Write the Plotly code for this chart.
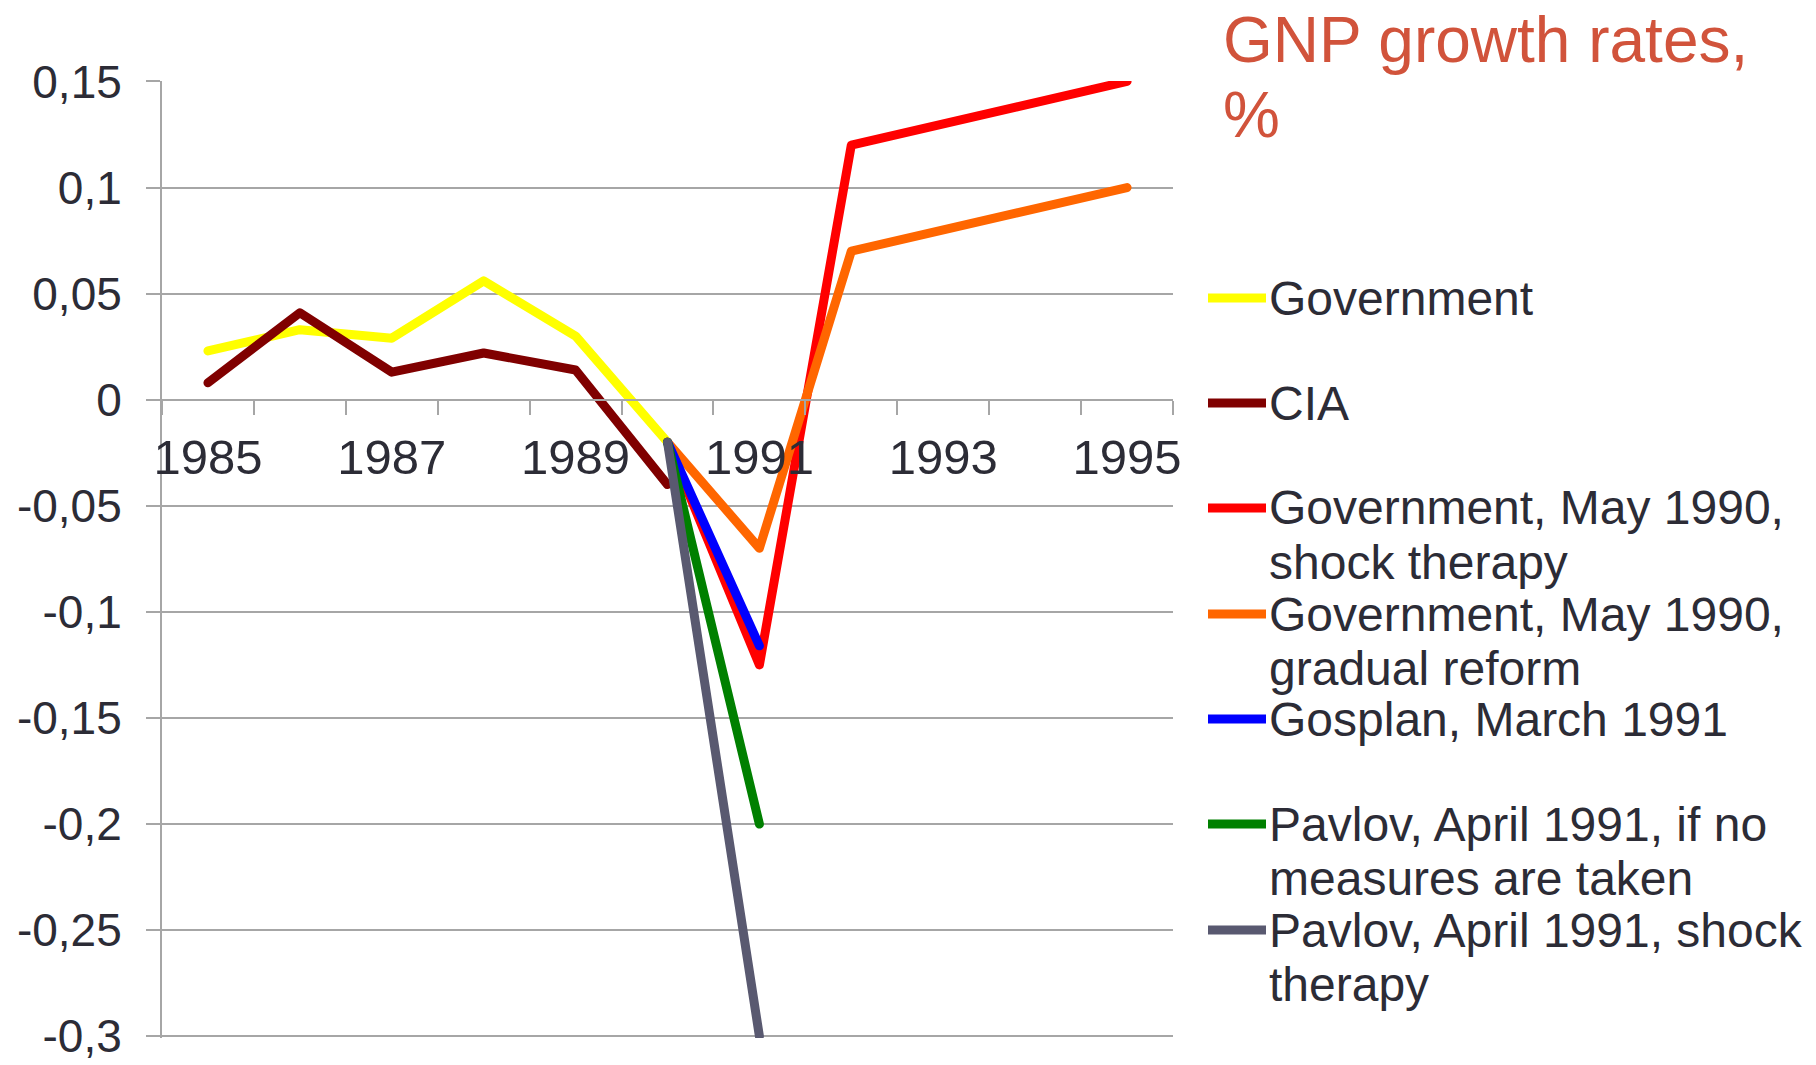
import plotly.graph_objects as go

# ---- data ----
years = ["1985", "1986", "1987", "1988", "1989", "1990", "1991", "1992", "1993", "1994", "1995"]
x_ticktext = ["1985", "", "1987", "", "1989", "", "1991", "", "1993", "", "1995"]

government = [0.023, 0.033, 0.029, 0.056, 0.030, -0.020, None, None, None, None, None]
cia = [0.008, 0.041, 0.013, 0.022, 0.014, -0.040, None, None, None, None, None]
gov_shock = [None, None, None, None, None, -0.020, -0.125, 0.120, None, None, 0.150]
gov_gradual = [None, None, None, None, None, -0.020, -0.070, 0.070, None, None, 0.100]
gosplan = [None, None, None, None, None, -0.020, -0.116, None, None, None, None]
pavlov_none = [None, None, None, None, None, -0.020, -0.200, None, None, None, None]
pavlov_shock = [None, None, None, None, None, -0.020, -0.300, None, None, None, None]

y_tickvals = [0.15, 0.1, 0.05, 0, -0.05, -0.1, -0.15, -0.2, -0.25, -0.3]
y_ticktext = ["0,15", "0,1", "0,05", "0", "-0,05", "-0,1", "-0,15", "-0,2", "-0,25", "-0,3"]

series = [
    (["Government"], government, "#FFFF00"),
    (["CIA"], cia, "#800000"),
    (["Government, May 1990,", "shock therapy"], gov_shock, "#FF0000"),
    (["Government, May 1990,", "gradual reform"], gov_gradual, "#FF6600"),
    (["Gosplan, March 1991"], gosplan, "#0000FF"),
    (["Pavlov, April 1991, if no", "measures are taken"], pavlov_none, "#008000"),
    (["Pavlov, April 1991, shock", "therapy"], pavlov_shock, "#595970"),
]

title_lines = ["GNP growth rates,", "%"]

# ---- layout geometry (pixels) ----
W, H = 1816, 1065
L, R, T, B = 162, 1173, 81, 1038
FONT = "Liberation Sans, Arial, sans-serif"
TXT = "#2C2C36"
GRID = "#A6A6A6"


def px(xp):
    return (xp - L) / (R - L)


def py(yp):
    return (B - yp) / (B - T)


fig = go.Figure()
for names, vals, color in series:
    fig.add_trace(go.Scatter(
        x=years, y=vals, mode="lines", name=" ".join(names),
        line=dict(color=color, width=9), connectgaps=True, showlegend=False,
    ))

# manual legend (entries spaced like the original)
legend_first_y = [298, 403, 508, 614, 719, 824, 930]
line_gap = 54
shapes = []
annotations = []
for (names, vals, color), yc in zip(series, legend_first_y):
    shapes.append(dict(type="line", xref="paper", yref="paper",
                       x0=px(1208), x1=px(1266), y0=py(yc), y1=py(yc),
                       line=dict(color=color, width=9)))
    for i, t in enumerate(names):
        annotations.append(dict(text=t, xref="paper", yref="paper",
                                x=px(1267), y=py(yc + i * line_gap),
                                xanchor="left", yanchor="middle", showarrow=False,
                                font=dict(family=FONT, size=48, color=TXT)))

title_y = [40, 115]
for t, yc in zip(title_lines, title_y):
    annotations.append(dict(text=t, xref="paper", yref="paper",
                            x=px(1221), y=py(yc), xanchor="left", yanchor="middle",
                            showarrow=False,
                            font=dict(family=FONT, size=64, color="#D1533B")))

fig.update_layout(
    width=W, height=H,
    margin=dict(l=L, r=W - R, t=T, b=H - B, autoexpand=False),
    paper_bgcolor="white", plot_bgcolor="white",
    font=dict(family=FONT, color=TXT),
    showlegend=False,
    shapes=shapes, annotations=annotations,
    xaxis=dict(
        type="category", range=[-0.5, 10.5], automargin=False,
        tickmode="array", tickvals=years, ticktext=x_ticktext, tickangle=0,
        tickson="boundaries", ticks="outside", ticklen=14, tickwidth=2, tickcolor=GRID,
        showline=True, linecolor=GRID, linewidth=2, showgrid=False,
        anchor="free", position=0.3 / 0.45,
        tickfont=dict(family=FONT, size=49, color=TXT), ticklabelstandoff=14,
        ticklabeloverflow="allow",
    ),
    yaxis=dict(
        range=[-0.3008, 0.1502], automargin=False,
        tickmode="array", tickvals=y_tickvals, ticktext=y_ticktext,
        showgrid=True, gridcolor=GRID, gridwidth=2, zeroline=False,
        ticks="outside", ticklen=14, tickwidth=2, tickcolor=GRID,
        showline=True, linecolor=GRID, linewidth=2,
        tickfont=dict(family=FONT, size=46, color=TXT), ticklabelstandoff=15,
        ticklabeloverflow="allow",
    ),
)

fig.write_html(
    "out.html",
    config={"displayModeBar": False},
    post_script="document.body.style.margin='0px';"
    "document.querySelectorAll('.scatterlayer path.js-line').forEach(function(p){"
    "p.style.strokeLinejoin='round';p.style.strokeLinecap='round';});",
)
